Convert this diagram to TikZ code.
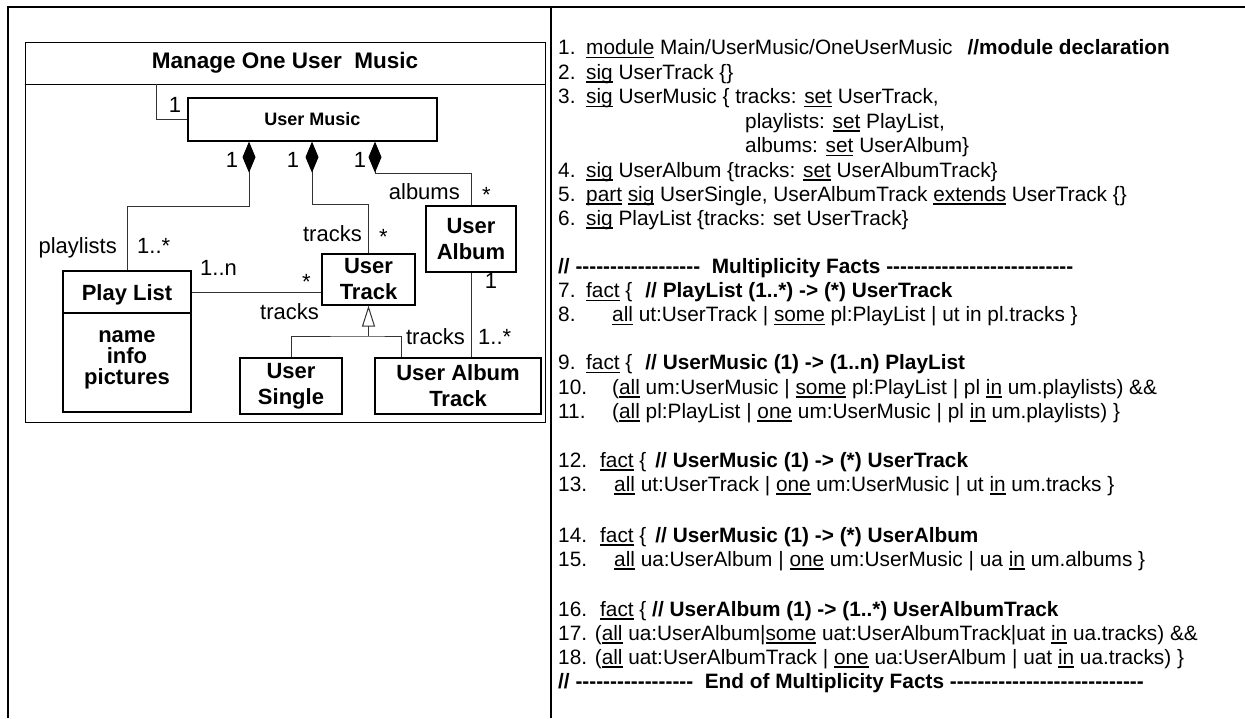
\documentclass[tikz,border=0pt]{standalone}
\usepackage{fontspec}
\setmainfont{Liberation Sans}
\usetikzlibrary{arrows.meta}
% underlined keyword
\newcommand\kw[1]{\setbox0=\hbox{#1}\rlap{\rule[-0.19em]{\wd0}{0.075em}}\box0\relax}
% a run of separate hyphens (no dash ligatures)
\newcommand\dashes[1]{\begingroup\count255=#1\relax\loop\ifnum\count255>0 -\kern0pt\advance\count255 by -1\relax\repeat\endgroup}
\begin{document}
\begin{tikzpicture}[x=1pt,y=-1pt,
  box/.style={draw, line width=1.3pt, inner sep=0pt, align=center,
    font=\fontsize{22}{26}\selectfont\bfseries},
  conn/.style={draw=black!80, line width=1pt},
  comp/.style={conn, {Diamond[length=31pt,width=13pt,color=black]}-},
  gen/.style={conn, -{Triangle[open,length=21pt,width=13pt]}},
  cname/.style={font=\fontsize{22}{24}\selectfont\bfseries, anchor=base, inner sep=0pt},
  lbl/.style={font=\fontsize{22}{24}\selectfont, inner sep=0pt},
  code/.style={font=\fontsize{20.8}{24}\selectfont, anchor=base west, inner sep=0pt},
]
\useasboundingbox (0,0) rectangle (1245,718);

% outer frame and column divider
\draw[line width=2.2pt] (8,718) -- (8,7) -- (1245,7);
\draw[line width=2.2pt] (551,7) -- (551,718);

% ---------------- package with the class diagram ----------------
\node[draw, line width=1pt, inner sep=0pt, minimum width=520pt, minimum height=380pt] (pkg) at (285,232) {};
\draw[line width=1pt] (pkg.west |- 0,84) -- (pkg.east |- 0,84);
\node[cname, font=\fontsize{22.5}{24}\selectfont\bfseries] (title) at (285,68) {Manage One User\ \ Music};

% classes
\node[box, minimum width=249pt, minimum height=43pt, font=\fontsize{18}{20}\selectfont\bfseries] (um) at (312.5,119.5) {User Music};
\node[box, minimum width=93pt, minimum height=51pt] (ut) at (368.5,279.5) {User\\Track};
\node[box, minimum width=90pt, minimum height=66pt] (ua) at (471,239) {User\\Album};
\node[box, minimum width=102pt, minimum height=56pt] (us) at (291,386) {User\\Single};
\node[box, minimum width=166pt, minimum height=56pt] (uat) at (458,386) {User Album\\Track};
\node[box, minimum width=128pt, minimum height=141pt] (pl) at (127,341.5) {};
\draw[line width=1.3pt] (pl.west |- 0,313) -- (pl.east |- 0,313);
\node[cname] (plname) at (127,300) {Play List};
\node[cname] (plat1) at (127,342) {name};
\node[cname] (plat2) at (127,363) {info};
\node[cname] (plat3) at (127,384) {pictures};

% association from the package to User Music
\coordinate (hdr) at (156,84);
\draw[conn] (hdr) |- (um.west);
\node[lbl, anchor=base] (m0) at (175,112) {1};

% compositions
\draw[comp] (um.south -| 249,0) -- ++(0,65) -| (pl.north);
\draw[comp] (um.south -| 312,0) -- ++(0,63) -| (ut.north);
\draw[comp] (um.south -| 375,0) -- ++(0,31.5) -| (ua.north);
\node[lbl, anchor=base] (m1) at (232,167) {1};
\node[lbl, anchor=base] (m2) at (293,167) {1};
\node[lbl, anchor=base] (m3) at (360,167) {1};
\node[lbl, anchor=base east] (r1) at (117,253) {playlists};
\node[lbl, anchor=base west] (m4) at (137,253) {1..*};
\node[lbl, anchor=base east] (r2) at (362,241) {tracks};
\node[lbl, anchor=base west] (m5) at (379,244) {*};
\node[lbl, anchor=base east] (r3) at (460,199) {albums};
\node[lbl, anchor=base west] (m6) at (482,202) {*};

% Play List -- User Track
\draw[conn] (pl.east |- 0,292) -- (ut.west |- 0,292);
\node[lbl, anchor=base west] (m7) at (200,275) {1..n};
\node[lbl, anchor=base west] (m8) at (302,289) {*};
\node[lbl, anchor=base west] (r4) at (260,319) {tracks};

% User Album -- User Album Track
\draw[conn] (ua.south) -- (uat.north -| ua.south);
\node[lbl, anchor=base] (m9) at (491,288) {1};
\node[lbl, anchor=base east] (r5) at (465,344) {tracks};
\node[lbl, anchor=base west] (m10) at (478,344) {1..*};

% generalization
\coordinate (gj) at (368.5,336);
\draw[conn] (us.north) |- (gj) -| (uat.north -| 401,0);
\draw[gen] (gj) -- (ut.south);

% ---------------- Alloy listing ----------------
\node[code] (n1) at (558,54.5) {1.};
\node[code] (c1) at (586,54.5) {\kw{module} Main/UserMusic/OneUserMusic\hspace{15pt}\textbf{//module declaration}};
\node[code] (n2) at (558,79) {2.};
\node[code] (c2) at (586,79) {\kw{sig} UserTrack \{\}};
\node[code] (n3) at (558,103.5) {3.};
\node[code] (c3) at (586,103.5) {\kw{sig} UserMusic \{ tracks: \kw{set} UserTrack,};
\node[code] (c3b) at (745,128) {playlists: \kw{set} PlayList,};
\node[code] (c3c) at (745,152.5) {albums: \kw{set} UserAlbum\}};
\node[code] (n4) at (558,177) {4.};
\node[code] (c4) at (586,177) {\kw{sig} UserAlbum \{tracks: \kw{set} UserAlbumTrack\}};
\node[code] (n5) at (558,201) {5.};
\node[code] (c5) at (586,201) {\kw{part} \kw{sig} UserSingle, UserAlbumTrack \kw{extends} UserTrack \{\}};
\node[code] (n6) at (558,225) {6.};
\node[code] (c6) at (586,225) {\kw{sig} PlayList \{tracks: set UserTrack\}};

\node[code] (h1) at (558,273.5) {\textbf{// \dashes{18}\ \ Multiplicity Facts \dashes{27}}};
\node[code] (n7) at (558,297.5) {7.};
\node[code] (c7) at (586,297.5) {\kw{fact} \{\hspace{13pt}\textbf{// PlayList (1..*) -> (*) UserTrack}};
\node[code] (n8) at (558,321.5) {8.};
\node[code] (c8) at (612,321.5) {\kw{all} ut:UserTrack | \kw{some} pl:PlayList | ut in pl.tracks \}};

\node[code] (n9) at (558,369.5) {9.};
\node[code] (c9) at (586,369.5) {\kw{fact} \{\hspace{13pt}\textbf{// UserMusic (1) -> (1..n) PlayList}};
\node[code] (n10) at (558,394) {10.};
\node[code] (c10) at (612,394) {(\kw{all} um:UserMusic | \kw{some} pl:PlayList | pl \kw{in} um.playlists) \&\&};
\node[code] (n11) at (558,418) {11.};
\node[code] (c11) at (612,418) {(\kw{all} pl:PlayList | \kw{one} um:UserMusic | pl \kw{in} um.playlists) \}};

\node[code] (n12) at (558,467) {12.};
\node[code] (c12) at (600,467) {\kw{fact} \{\hspace{9pt}\textbf{// UserMusic (1) -> (*) UserTrack}};
\node[code] (n13) at (558,491) {13.};
\node[code] (c13) at (614,491) {\kw{all} ut:UserTrack | \kw{one} um:UserMusic | ut \kw{in} um.tracks \}};

\node[code] (n14) at (558,542) {14.};
\node[code] (c14) at (600,542) {\kw{fact} \{\hspace{9pt}\textbf{// UserMusic (1) -> (*) UserAlbum}};
\node[code] (n15) at (558,566) {15.};
\node[code] (c15) at (614,566) {\kw{all} ua:UserAlbum | \kw{one} um:UserMusic | ua \kw{in} um.albums \}};

\node[code] (n16) at (558,616) {16.};
\node[code] (c16) at (600,616) {\kw{fact} \{ \textbf{// UserAlbum (1) -> (1..*) UserAlbumTrack}};
\node[code] (c17) at (558,640) {17. (\kw{all} ua:UserAlbum|\kw{some} uat:UserAlbumTrack|uat \kw{in} ua.tracks) \&\&};
\node[code] (c18) at (558,664) {18. (\kw{all} uat:UserAlbumTrack | \kw{one} ua:UserAlbum | uat \kw{in} ua.tracks) \}};
\node[code] (h2) at (558,688) {\textbf{// \dashes{17}\ \ End of Multiplicity Facts \dashes{28}}};
\end{tikzpicture}
\end{document}
